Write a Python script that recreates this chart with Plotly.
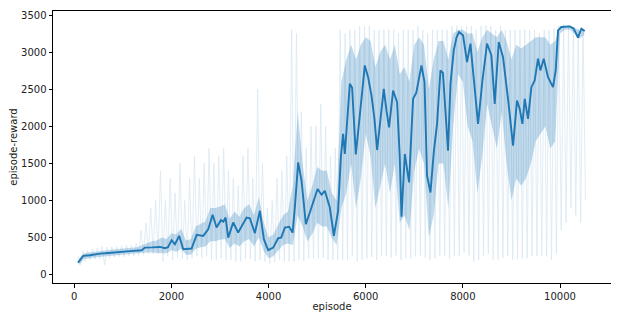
"""Episode reward curve – smoothed reward over raw per-episode spread."""

import plotly.graph_objects as go

# ── Smoothed (rolling-mean) reward ────────────────────────────────────────────
smooth_episode = [
    76, 130, 185, 323, 529, 700, 940, 1150, 1387, 1455, 1600, 1763, 1866, 1930,
    2004, 2072, 2160, 2243, 2416, 2519, 2655, 2757, 2848, 2930, 3019, 3070, 3115,
    3169, 3272, 3374, 3547, 3615, 3718, 3821, 3903, 3992, 4095, 4198, 4260, 4335,
    4424, 4494, 4541, 4609, 4679, 4768, 4850, 4932, 5008, 5091, 5158, 5261, 5344,
    5432, 5488, 5535, 5570, 5673, 5720, 5796, 5879, 5930, 5981, 6049, 6119, 6180,
    6235, 6325, 6372, 6430, 6481, 6564, 6646, 6700, 6737, 6805, 6893, 6940, 6975,
    7040, 7100, 7148, 7210, 7263, 7333, 7401, 7469, 7539, 7590, 7642, 7695, 7745,
    7813, 7870, 7922, 8004, 8086, 8156, 8224, 8313, 8403, 8498, 8588, 8656, 8739,
    8827, 8930, 9033, 9115, 9171, 9226, 9274, 9342, 9411, 9479, 9547, 9597, 9665,
    9753, 9856, 9912, 9959, 10029, 10120, 10200, 10282, 10370, 10440, 10508,
]
smooth_reward = [
    162, 215, 253, 262, 284, 292, 311, 318, 330, 365, 368, 374, 357, 370,
    465, 410, 523, 343, 352, 536, 523, 613, 807, 635, 735, 715, 770,
    500, 703, 568, 770, 760, 560, 861, 478, 330, 365, 492, 500, 635,
    645, 568, 905, 1514, 1266, 681, 838, 996, 1154, 1077, 1131, 905, 523,
    861, 1581, 1897, 1627, 2573, 2520, 1620, 2212, 2480, 2820, 2662, 2415, 2100,
    1680, 2212, 2505, 2200, 1986, 2482, 2324, 1600, 780, 1627, 1243, 1900, 2370,
    2450, 2650, 2820, 2600, 1334, 1108, 1649, 2032, 2753, 2720, 2257, 1672, 2573,
    3023, 3200, 3270, 3226, 2865, 3114, 2662, 2032, 2617, 3114, 2955, 2303, 3135,
    2932, 2370, 1739, 2347, 2235, 2032, 2370, 2100, 2527, 2617, 2911, 2753, 2911,
    2662, 2527, 2753, 3293, 3338, 3345, 3347, 3316, 3195, 3316, 3284,
]

# ── Raw episode spread, one value per 100-episode bin (100 … 10500) ───────────
bin_episode = list(range(100, 10600, 100))

raw_max = [
    260, 320, 330, 350, 360, 380, 370, 380, 380, 390,            # 100-1000
    400, 400, 420, 600, 700, 900, 1000, 1400, 1000, 1300,        # 1100-2000
    1100, 1500, 1000, 1300, 1600, 1300, 1500, 1700, 1500, 1600,  # 2100-3000
    1700, 1400, 1300, 1200, 1600, 1700, 1300, 2500, 1500, 900,   # 3100-4000
    1000, 1300, 1400, 1600, 3300, 3250, 2200, 1700, 2000, 2000,  # 4100-5000
    2300, 2000, 1600, 1700, 3300, 3250, 3300, 3300, 3350, 3350,  # 5100-6000
    3350, 3300, 3300, 3300, 3300, 3300, 3250, 3300, 3300, 3300,  # 6100-7000
    3350, 3300, 3250, 3300, 3300, 3300, 3300, 3350, 3350, 3350,  # 7100-8000
    3350, 3350, 3300, 3350, 3360, 3350, 3300, 3350, 3300, 3300,  # 8100-9000
    3300, 3300, 3300, 3300, 3300, 3250, 3300, 3300, 3320, 3360,  # 9100-10000
    3370, 3360, 3340, 3320, 3320,                                # 10100-10500
]
raw_min = [
    130, 180, 200, 210, 210, 130, 220, 230, 240, 240,
    250, 250, 260, 270, 280, 280, 280, 180, 250, 200,
    230, 210, 200, 220, 250, 230, 250, 200, 200, 220,
    200, 200, 180, 180, 220, 210, 180, 200, 180, 150,
    170, 200, 180, 180, 180, 200, 180, 220, 220, 220,
    230, 200, 200, 200, 200, 200, 250, 180, 200, 220,
    240, 200, 250, 260, 230, 260, 200, 220, 220, 250,
    260, 230, 200, 220, 260, 260, 220, 250, 250, 300,
    260, 180, 200, 250, 280, 200, 200, 230, 250, 200,
    210, 220, 220, 250, 250, 250, 250, 200, 280, 600,
    700, 900, 800, 700, 1000,
]
core_hi = [
    220, 290, 300, 310, 320, 325, 330, 340, 345, 350,
    355, 360, 370, 400, 430, 450, 460, 500, 480, 560,
    540, 620, 460, 480, 650, 680, 720, 900, 900, 920,
    950, 750, 850, 780, 900, 950, 800, 1050, 700, 500,
    540, 680, 800, 850, 1200, 2200, 1500, 1000, 1200, 1450,
    1400, 1400, 1100, 1000, 2600, 2900, 3100, 2900, 3100, 3200,
    3150, 2800, 3000, 3100, 2900, 3100, 2700, 2800, 2600, 3100,
    3200, 3100, 2500, 2900, 3150, 3150, 2900, 3250, 3300, 3300,
    3250, 3250, 3000, 3200, 3300, 3250, 3200, 3300, 3150, 2900,
    3100, 3050, 3100, 3150, 3200, 3200, 3200, 3100, 3150, 3350,
    3360, 3360, 3330, 3290, 3310,
]
core_lo = [
    130, 210, 220, 230, 240, 245, 250, 260, 265, 270,
    275, 280, 285, 295, 300, 300, 300, 290, 290, 330,
    310, 350, 270, 270, 350, 370, 380, 450, 450, 470,
    480, 360, 420, 380, 450, 480, 380, 500, 320, 220,
    250, 320, 400, 420, 400, 800, 650, 450, 550, 700,
    650, 650, 500, 400, 900, 1100, 1500, 900, 1300, 1900,
    1600, 900, 1200, 1500, 1100, 1500, 700, 800, 600, 1400,
    1700, 1500, 500, 800, 1500, 1500, 900, 2000, 2700, 2600,
    2000, 1800, 1100, 1600, 2300, 2000, 1700, 2200, 1500, 1000,
    1300, 1200, 1300, 1500, 1800, 1900, 2000, 1700, 1800, 3250,
    3300, 3300, 3250, 3180, 3230,
]

# ── Palette ───────────────────────────────────────────────────────────────────
_BLUE = "#1f77b4"
_FONT = "DejaVu Sans"

fig = go.Figure()

# faint raw spikes: zig-zag between each bin's max and min
zig_x, zig_y = [], []
for ep, hi, lo in zip(bin_episode, raw_max, raw_min):
    zig_x += [ep - 25, ep + 25]
    zig_y += [hi, lo]
fig.add_trace(
    go.Scatter(
        x=zig_x,
        y=zig_y,
        mode="lines",
        line={"color": _BLUE, "width": 0.8},
        opacity=0.16,
        showlegend=False,
        hoverinfo="skip",
    )
)

# denser part of the raw spread, as a filled band
fig.add_trace(
    go.Scatter(
        x=bin_episode + bin_episode[::-1],
        y=core_hi + core_lo[::-1],
        mode="lines",
        fill="toself",
        fillcolor="rgba(31,119,180,0.27)",
        line={"width": 0, "color": "rgba(0,0,0,0)"},
        showlegend=False,
        hoverinfo="skip",
    )
)

fig.add_trace(
    go.Scatter(
        x=smooth_episode,
        y=smooth_reward,
        mode="lines",
        line={"color": _BLUE, "width": 1.9},
        showlegend=False,
    )
)

_axis = {
    "showgrid": False,
    "zeroline": False,
    "showline": True,
    "linecolor": "black",
    "linewidth": 1,
    "mirror": True,
    "ticks": "outside",
    "ticklen": 3.5,
    "tickwidth": 0.8,
    "tickcolor": "black",
    "tickfont": {"family": _FONT, "size": 10, "color": "#222"},
}

# the page body adds 8 px round the figure, so the figure is 8 px smaller
fig.update_layout(
    width=611,
    height=311,
    margin={"l": 45, "r": 8, "t": 3, "b": 36},
    paper_bgcolor="white",
    plot_bgcolor="white",
    font={"family": _FONT, "size": 10, "color": "#222"},
    xaxis={
        **_axis,
        "range": [-438, 11050],
        "tickvals": [0, 2000, 4000, 6000, 8000, 10000],
        "tickformat": "d",
        "title": {"text": "episode", "standoff": 2, "font": {"family": _FONT, "size": 10}},
    },
    yaxis={
        **_axis,
        "range": [-112, 3554],
        "tickvals": [0, 500, 1000, 1500, 2000, 2500, 3000, 3500],
        "title": {"text": "episode-reward", "standoff": 4, "font": {"family": _FONT, "size": 10}},
    },
)

fig.write_html("out.html")
